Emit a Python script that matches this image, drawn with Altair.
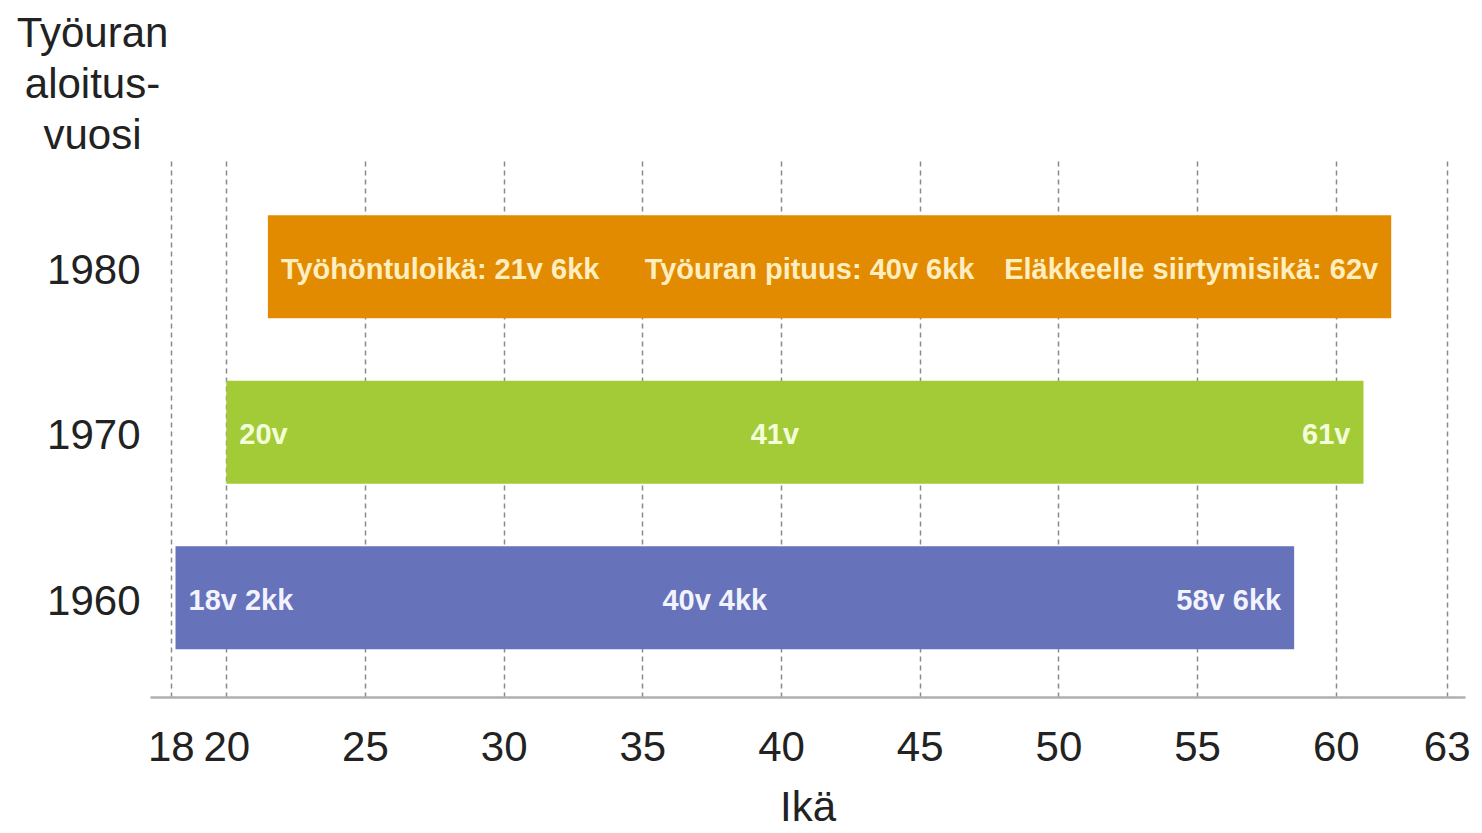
import altair as alt
import pandas as pd

# ---- data ----
years = ["1980", "1970", "1960"]
start_age = [21.5, 20.0, 18.17]
end_age = [62.0, 61.0, 58.5]
start_labels = ["Työhöntuloikä: 21v 6kk", "20v", "18v 2kk"]
length_labels = ["Työuran pituus: 40v 6kk", "41v", "40v 4kk"]
end_labels = ["Eläkkeelle siirtymisikä: 62v", "61v", "58v 6kk"]
x_tick_values = [18, 20, 25, 30, 35, 40, 45, 50, 55, 60, 64]
x_tick_labels = ["18", "20", "25", "30", "35", "40", "45", "50", "55", "60", "63"]

# ---- styles ----
bar_colors = ["#E38B00", "#A3CB38", "#6672B9"]
text_colors = ["#FFEFC0", "#F4FFDA", "#F3F3FF"]
FONT = "Liberation Sans"
INK = "#222222"

df = pd.DataFrame({
    "year": years,
    "start": start_age,
    "end": end_age,
    "start_label": start_labels,
    "length_label": length_labels,
    "end_label": end_labels,
})
df["mid"] = (df["start"] + df["end"]) / 2

label_expr = ""
for v, l in zip(x_tick_values, x_tick_labels):
    label_expr += f"datum.value == {v} ? '{l}' : "
label_expr += "datum.label"

x_scale = alt.Scale(domain=[17.25, 64.66], nice=False, zero=False)
y_scale = alt.Scale(domain=years, paddingInner=0.378, paddingOuter=0.32, align=0.55)

x_axis = alt.Axis(
    values=x_tick_values, labelExpr=label_expr,
    labelFontSize=42, labelFont=FONT, labelColor=INK, labelPadding=30,
    ticks=False, domainColor="#AFAFAF", domainWidth=2.5,
    grid=True, gridDash=[5, 4], gridColor="#8A8A8A", gridWidth=1.5,
    title="Ikä", titleFontSize=42, titleFont=FONT, titleFontWeight="normal",
    titleColor=INK, titlePadding=19, labelFlush=False, labelOverlap=False,
)
y_axis = alt.Axis(
    labelFontSize=42, labelFont=FONT, labelColor=INK, labelPadding=10,
    labelOffset=4,
    ticks=False, domain=False, grid=False,
    title=["Työuran", "aloitus-", "vuosi"], titleAngle=0, titleAlign="center",
    titleBaseline="alphabetic", titleX=-58, titleY=-111, titleLineHeight=51,
    titleFontSize=42, titleFont=FONT, titleFontWeight="normal", titleColor=INK,
)

base = alt.Chart(df)

bars = base.mark_bar(cornerRadius=0).encode(
    x=alt.X("start:Q", scale=x_scale, axis=x_axis),
    x2="end:Q",
    y=alt.Y("year:N", scale=y_scale, axis=y_axis, sort=years),
    color=alt.Color("year:N", scale=alt.Scale(domain=years, range=bar_colors), legend=None),
)

text_color = alt.Color("year:N", scale=alt.Scale(domain=years, range=text_colors), legend=None)
text_kw = dict(baseline="middle", fontSize=29, fontWeight="bold", font=FONT, dy=3)

t_start = base.mark_text(align="left", dx=13, **text_kw).encode(
    x="start:Q", y=alt.Y("year:N", sort=years), text="start_label:N", color=text_color)
t_mid = base.mark_text(align="center", dx=-20, **text_kw).encode(
    x="mid:Q", y=alt.Y("year:N", sort=years), text="length_label:N", color=text_color)
t_end = base.mark_text(align="right", dx=-13, **text_kw).encode(
    x="end:Q", y=alt.Y("year:N", sort=years), text="end_label:N", color=text_color)

chart = alt.layer(bars, t_start, t_mid, t_end).resolve_scale(
    color="independent"
).properties(
    width=1315, height=540,
    padding={"left": 142, "top": 149, "right": 9, "bottom": 128},
    autosize=alt.AutoSizeParams(type="none"),
    background="white",
).configure_view(stroke=None)

chart.save("out.html", embed_options={"renderer": "svg", "actions": False})
